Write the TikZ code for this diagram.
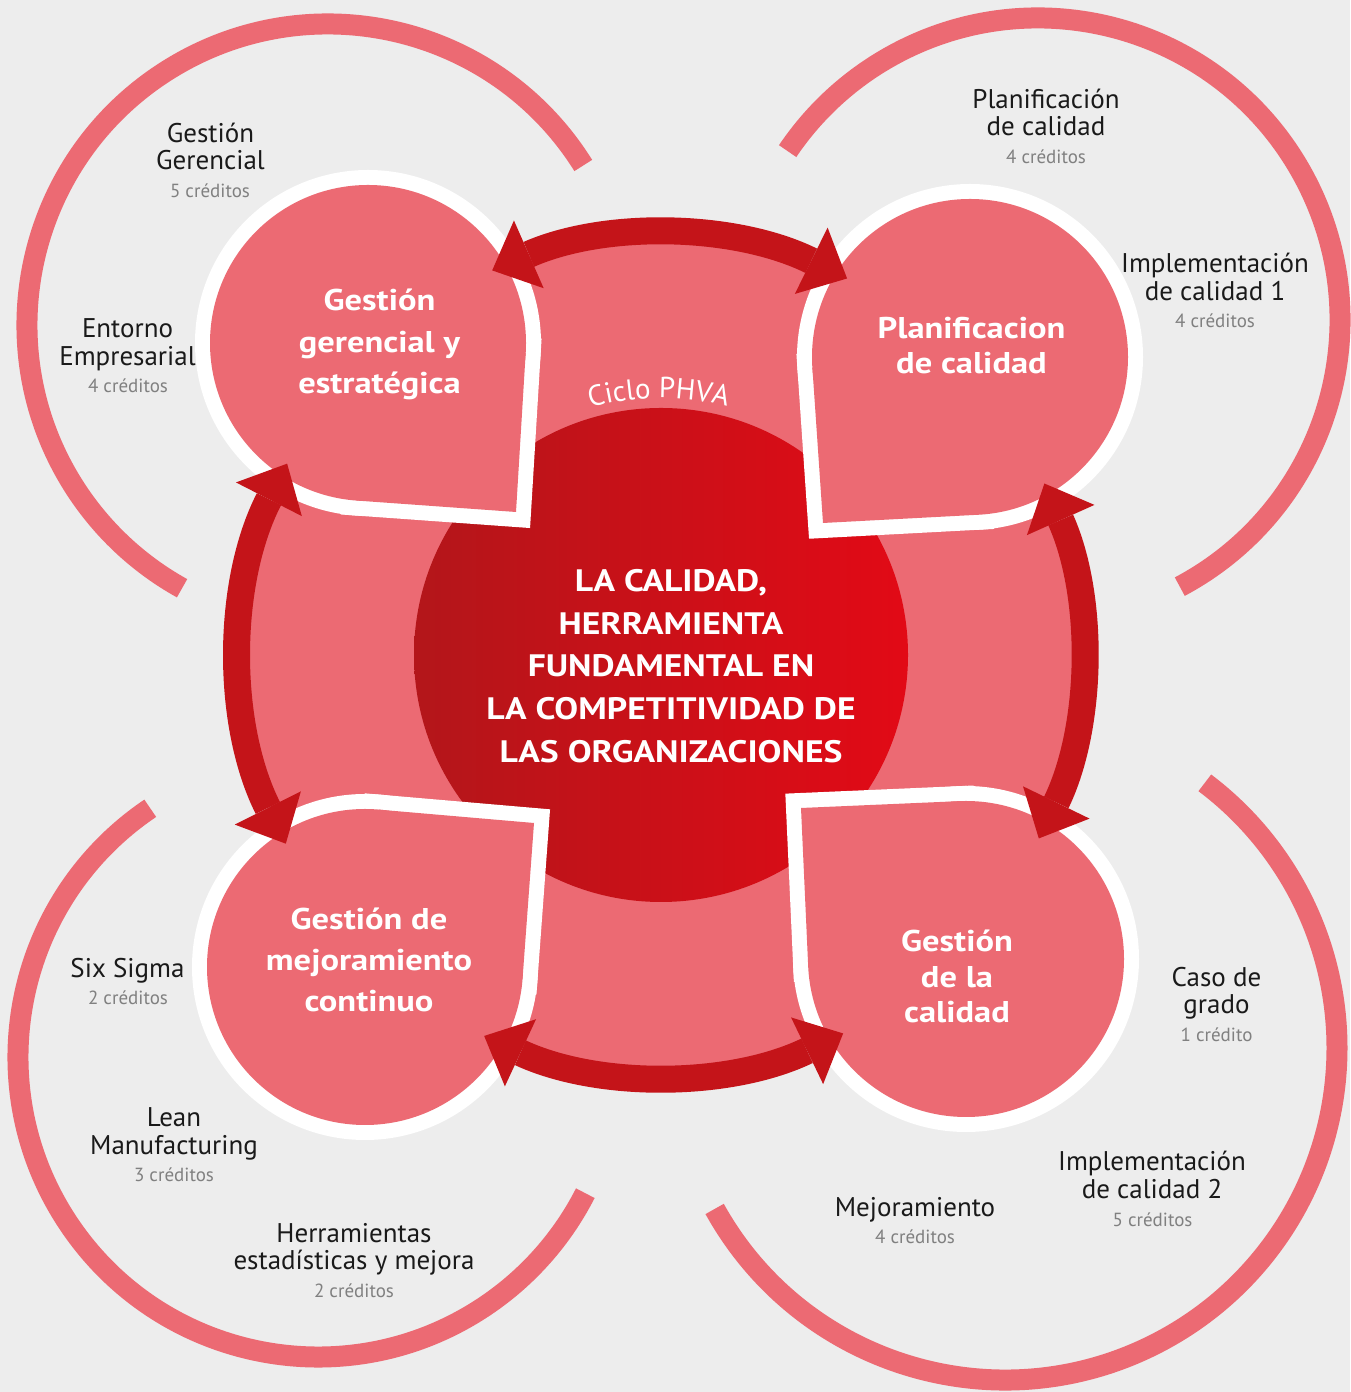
\documentclass[tikz,border=0pt]{standalone}
\usepackage{fontspec}
\setmainfont{PT Sans}
\newfontfamily\widesans[FakeStretch=1.15]{PT Sans}
\usetikzlibrary{arrows.meta, calc, decorations.text}

\definecolor{bggray}{HTML}{EDEDED}
\definecolor{petalpink}{HTML}{EC6A73}
\definecolor{cyclered}{HTML}{C41419}
\definecolor{coredark}{HTML}{B3161A}
\definecolor{corebright}{HTML}{E20A16}
\definecolor{labelink}{HTML}{1A1A1A}
\definecolor{creditgray}{HTML}{808080}

\tikzset{
  course/.style={text=labelink, align=center, inner sep=0pt, font=\fontsize{27}{27.5}\selectfont},
  credit/.style={text=creditgray, anchor=base, inner sep=0pt, font=\fontsize{19}{20}\selectfont},
  outerring/.style={draw=petalpink, line width=21pt},
  phvaarrow/.style={draw=cyclered, line width=27pt,
    arrows={Triangle[length=40pt,width=74pt,line width=0pt]-Triangle[length=40pt,width=74pt,line width=0pt]}},
  phasetitle/.style={text=white, align=center, inner sep=0pt},
}

\begin{document}
\begin{tikzpicture}[x=1pt, y=1pt]
\useasboundingbox (0,0) rectangle (1350,1392);
\fill[bggray] (0,0) rectangle (1350,1392);

% rings of courses
\draw[outerring] (328,1067) ++(32:301) arc[start angle=32, end angle=241, radius=301];
\draw[outerring] (1038,1072) ++(-62:302) arc[start angle=-62, end angle=146, radius=302];
\draw[outerring] (318,335) ++(124:300) arc[start angle=124, end angle=333, radius=300];
\draw[outerring] (1005,344) ++(209:332) arc[start angle=209, end angle=413, radius=332];

\coordinate (hub) at (661,737);
\fill[petalpink] (hub) circle (418);
\node[circle, minimum size=494pt, inner sep=0pt, left color=coredark, right color=corebright] (core) at (hub) {};

% petals
\foreach \nm/\cx/\cy/\px/\py in {gg/368/1049/516/880, pc/970/1035/823/869, gm/365/425/534/569, gc/966/433/801/584}{
  \node[circle, minimum size=316pt, inner sep=0pt, outer sep=0pt] (\nm) at (\cx,\cy) {};
  \coordinate (\nm-tip) at (\px,\py);
  \coordinate (\nm-a) at (tangent cs:node=\nm, point={(\nm-tip)}, solution=1);
  \coordinate (\nm-b) at (tangent cs:node=\nm, point={(\nm-tip)}, solution=2);
}
\foreach \nm in {gg,pc,gm,gc}{
  \draw[white, line width=30pt, line join=miter] (\nm-tip) -- (\nm-a) -- (\nm.center) -- (\nm-b) -- cycle;
  \draw[white, line width=30pt] (\nm.center) circle (158);
}
\foreach \nm in {gg,pc,gm,gc}{
  \fill[petalpink] (\nm-tip) -- (\nm-a) -- (\nm.center) -- (\nm-b) -- cycle;
  \fill[petalpink] (\nm.center) circle (158);
}

% PHVA arrows
\draw[phvaarrow] ($(hub)+(113.7:420)$) arc[start angle=113.7, end angle=63.7, radius=420];
\draw[phvaarrow] ($(hub)+(24.1:420)$) arc[start angle=24.1, end angle=-25.9, radius=420];
\draw[phvaarrow] ($(hub)+(-64.3:420)$) arc[start angle=-64.3, end angle=-114.9, radius=420];
\draw[phvaarrow] ($(hub)+(206.7:420)$) arc[start angle=206.7, end angle=152.9, radius=420];

\path[decorate, decoration={text along path, text align=center, text color=white,
  text={|\fontsize{29}{30}\selectfont|Ciclo PHVA}}]
  ($(hub)+(125:257)$) arc[start angle=125, end angle=56, radius=257];

\node[phasetitle, font=\widesans\bfseries\fontsize{31}{42.8}\selectfont] (coretext) at (671,726)
  {LA CALIDAD,\\HERRAMIENTA\\FUNDAMENTAL EN\\LA COMPETITIVIDAD DE\\LAS ORGANIZACIONES};
\node[phasetitle, font=\widesans\bfseries\fontsize{30}{41.5}\selectfont] (ggtext) at (379.5,1047.6) {Gestión\\gerencial y\\estratégica};
\node[phasetitle, font=\widesans\bfseries\fontsize{30}{34.7}\selectfont] (pctext) at (971.5,1046.4) {Planificacion\\de calidad};
\node[phasetitle, font=\widesans\bfseries\fontsize{30}{41}\selectfont] (gmtext) at (369,432) {Gestión de\\mejoramiento\\continuo};
\node[phasetitle, font=\widesans\bfseries\fontsize{30}{35.5}\selectfont] (gctext) at (957,415.5) {Gestión\\de la\\calidad};

% courses
\node[course] (gesger) at (210.5,1245.3) {Gestión\\Gerencial};
\node[credit] at (210,1194) {5 créditos};
\node[course] (entemp) at (127.5,1047) {Entorno\\Empresarial};
\node[credit] at (128,999) {4 créditos};
\node[course] (placal) at (1046,1279.3) {Planificación\\de calidad};
\node[credit] at (1046,1228) {4 créditos};
\node[course] (impcal1) at (1215,1115.2) {Implementación\\de calidad 1};
\node[credit] at (1215,1064) {4 créditos};
\node[course, anchor=base] (sixsig) at (127.5,414.4) {Six Sigma};
\node[credit] at (128,387) {2 créditos};
\node[course] (leanman) at (174,258.3) {Lean\\Manufacturing};
\node[credit] at (174,210) {3 créditos};
\node[course] (herest) at (354,142.5) {Herramientas\\estadísticas y mejora};
\node[credit] at (354,94) {2 créditos};
\node[course] (casgra) at (1216.5,398.5) {Caso de\\grado};
\node[credit] at (1216.5,350.5) {1 crédito};
\node[course] (impcal2) at (1152,217) {Implementación\\de calidad 2};
\node[credit] at (1152.5,165) {5 créditos};
\node[course, anchor=base] (mejora) at (915,175.4) {Mejoramiento};
\node[credit] at (915,148) {4 créditos};
\end{tikzpicture}
\end{document}
